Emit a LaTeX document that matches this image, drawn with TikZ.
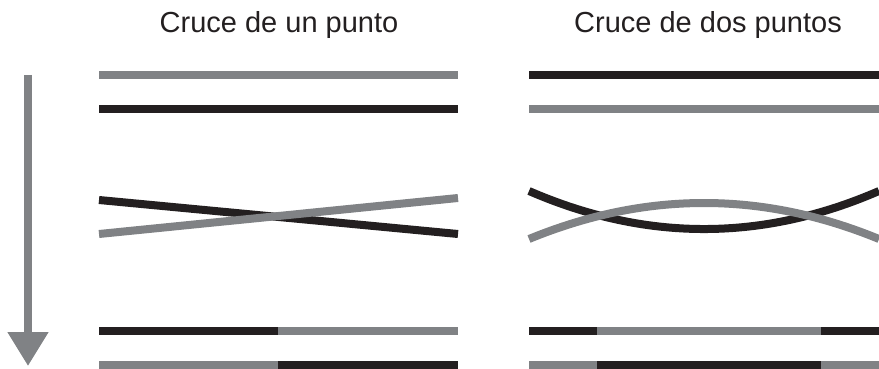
\documentclass[tikz,border=0pt]{standalone}
\usepackage{fontspec}
\setmainfont{Liberation Sans}
\usetikzlibrary{arrows.meta}
\definecolor{strandgray}{HTML}{808285}
\definecolor{strandblack}{HTML}{231F20}
\begin{document}
\begin{tikzpicture}[
    x=1pt, y=-1pt,
    strand/.style={line width=8pt, line cap=butt},
    dark/.style={strand, strandblack},
    light/.style={strand, strandgray},
    title/.style={anchor=base, font=\fontsize{29}{34}\selectfont, text=strandblack, inner sep=0pt}
]
\useasboundingbox (0,0) rectangle (879,369);
% titles
\node [title] (one) at (279,33) {Cruce de un punto};
\node [title] (two) at (708,33) {Cruce de dos puntos};
% time arrow
\coordinate (start) at (28,75);
\coordinate (stop) at (28,366);
\draw [strandgray, line width=8pt, -{Triangle[length=34pt, width=39pt]}] (start) -- (stop);
% one point crossover
\draw [light] (99,75) -- (458,75);
\draw [dark] (99,109) -- (458,109);
\draw [dark] (99,200) -- (458,234);
\draw [light] (99,234) -- (458,198);
\draw [dark] (99,331) -- (278,331);
\draw [light] (278,331) -- (458,331);
\draw [light] (99,365) -- (278,365);
\draw [dark] (278,365) -- (458,365);
% two point crossover
\draw [dark] (529,191) .. controls (645.7,241.7) and (762.3,241.7) .. (879,191);
\draw [light] (529,239) .. controls (645.7,191) and (762.3,191) .. (879,239);
\draw [dark] (529,75) -- (879,75);
\draw [light] (529,109) -- (879,109);
\draw [dark] (529,331) -- (597,331);
\draw [light] (597,331) -- (821,331);
\draw [dark] (821,331) -- (879,331);
\draw [light] (529,365) -- (597,365);
\draw [dark] (597,365) -- (821,365);
\draw [light] (821,365) -- (879,365);
\end{tikzpicture}
\end{document}
